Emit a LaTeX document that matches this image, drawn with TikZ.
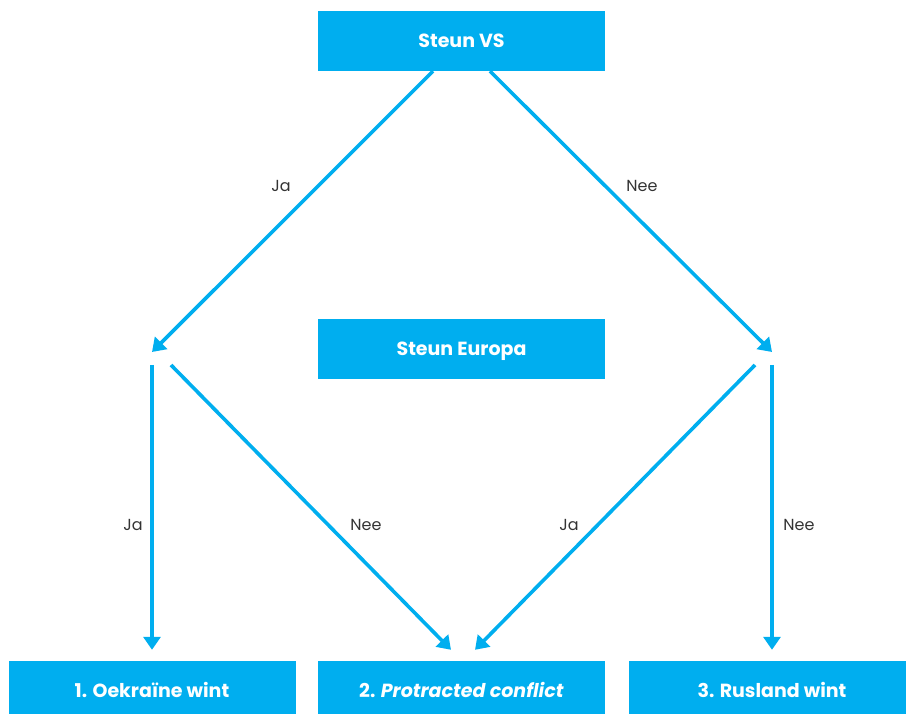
\documentclass[tikz,border=0pt]{standalone}
\usepackage{fontspec}
\setmainfont{Poppins}
\usetikzlibrary{arrows,arrows.meta,shapes}
\definecolor{sblue}{HTML}{00AEEF}
\definecolor{lgray}{HTML}{333333}
\tikzstyle{box}=[rectangle,fill=sblue,text=white,minimum width=287pt,minimum height=60pt,inner sep=0pt,text height=17pt,text depth=4pt,font=\fontsize{19}{22}\selectfont\bfseries]
\tikzstyle{edge} = [draw,sblue,line width=3.6pt,-{Triangle[length=13pt,width=17pt]}]
\tikzstyle{weight} = [text=lgray,font=\fontsize{16}{18}\selectfont]

\begin{document}
\begin{tikzpicture}[x=1pt,y=-1pt]

    \useasboundingbox (0,0) rectangle (906,714);

     \foreach \x/\y/\name/\txt in {461.5/41/vs/{Steun VS}, 461.5/349/eu/{Steun Europa}, 152/691/oek/{1. Oekra\"ine wint}, 461.5/691/pc/{2. \textit{Protracted conflict}}, 772/691/rus/{3. Rusland wint}}
        \node[box] (\name) at (\x, \y) {\txt};

    % knooppunten links en rechts
    \coordinate (lin) at (152,352);
    \coordinate (lja) at (152,365);
    \coordinate (lnee) at (171,365);
    \coordinate (rin) at (772,352);
    \coordinate (rja) at (755,365);
    \coordinate (rnee) at (772,365);

    \path[edge] ([xshift=-28.5pt]vs.south) -- (lin);
    \path[edge] ([xshift=28.5pt]vs.south) -- (rin);

    \path[edge, shorten >=11pt] (lja) -- (lja |- oek.north);
    \path[edge] (lnee) -- ([xshift=-10.5pt,yshift=11pt]pc.north);
    \path[edge] (rja) -- ([xshift=13.5pt,yshift=11pt]pc.north);
    \path[edge, shorten >=11pt] (rnee) -- (rnee |- rus.north);

    \foreach \x/\y/\weight/\name in {281/186/Ja/l1, 642/186/Nee/l2, 133/525/Ja/l3, 366/525/Nee/l4, 569/525/Ja/l5, 799/525/Nee/l6}
        \node[weight] (\name) at (\x, \y) {\weight};

\end{tikzpicture}
\end{document}
